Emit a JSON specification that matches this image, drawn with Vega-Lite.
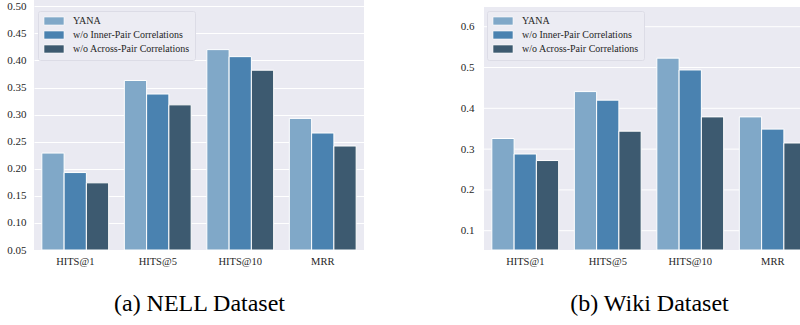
{
  "$schema": "https://vega.github.io/schema/vega-lite/v6.json",
  "padding": {"left": 6, "top": 0, "right": 0, "bottom": 0},
  "background": "white",
  "spacing": 96,
  "datasets": {
    "nell": [
      {"metric": "HITS@1", "model": "YANA", "value": 0.229},
      {"metric": "HITS@1", "model": "w/o Inner-Pair Correlations", "value": 0.193},
      {"metric": "HITS@1", "model": "w/o Across-Pair Correlations", "value": 0.174},
      {"metric": "HITS@5", "model": "YANA", "value": 0.363},
      {"metric": "HITS@5", "model": "w/o Inner-Pair Correlations", "value": 0.338},
      {"metric": "HITS@5", "model": "w/o Across-Pair Correlations", "value": 0.318},
      {"metric": "HITS@10", "model": "YANA", "value": 0.420},
      {"metric": "HITS@10", "model": "w/o Inner-Pair Correlations", "value": 0.407},
      {"metric": "HITS@10", "model": "w/o Across-Pair Correlations", "value": 0.382},
      {"metric": "MRR", "model": "YANA", "value": 0.293},
      {"metric": "MRR", "model": "w/o Inner-Pair Correlations", "value": 0.266},
      {"metric": "MRR", "model": "w/o Across-Pair Correlations", "value": 0.242}
    ],
    "wiki": [
      {"metric": "HITS@1", "model": "YANA", "value": 0.326},
      {"metric": "HITS@1", "model": "w/o Inner-Pair Correlations", "value": 0.288},
      {"metric": "HITS@1", "model": "w/o Across-Pair Correlations", "value": 0.272},
      {"metric": "HITS@5", "model": "YANA", "value": 0.441},
      {"metric": "HITS@5", "model": "w/o Inner-Pair Correlations", "value": 0.420},
      {"metric": "HITS@5", "model": "w/o Across-Pair Correlations", "value": 0.344},
      {"metric": "HITS@10", "model": "YANA", "value": 0.523},
      {"metric": "HITS@10", "model": "w/o Inner-Pair Correlations", "value": 0.494},
      {"metric": "HITS@10", "model": "w/o Across-Pair Correlations", "value": 0.379},
      {"metric": "MRR", "model": "YANA", "value": 0.379},
      {"metric": "MRR", "model": "w/o Inner-Pair Correlations", "value": 0.349},
      {"metric": "MRR", "model": "w/o Across-Pair Correlations", "value": 0.315}
    ],
    "wikiPanel": [{"bottom": 0.0527, "top": 0.6483}],
    "wikiTicks": [{"tick": 0.1}, {"tick": 0.2}, {"tick": 0.3}, {"tick": 0.4}, {"tick": 0.5}, {"tick": 0.6}]
  },
  "config": {
    "font": "Liberation Serif",
    "view": {"fill": "#EAEAF2", "stroke": null},
    "axis": {
      "domain": false,
      "ticks": false,
      "labelFont": "Liberation Serif",
      "labelColor": "#262626",
      "gridColor": "white",
      "gridWidth": 1,
      "gridOpacity": 1,
      "titleFont": "Liberation Serif",
      "titleFontWeight": "normal",
      "titleColor": "#000000"
    },
    "legend": {
      "labelFont": "Liberation Serif",
      "labelFontSize": 10,
      "labelColor": "#262626",
      "symbolType": "M-2.5,-1L2.5,-1L2.5,1L-2.5,1Z",
      "symbolSize": 64,
      "symbolOffset": 6,
      "symbolStrokeColor": "white",
      "symbolStrokeWidth": 0.6,
      "symbolOpacity": 1,
      "labelOffset": 14,
      "rowPadding": 2,
      "padding": 5,
      "fillColor": "#ECECF3",
      "strokeColor": "#DCDCE6",
      "cornerRadius": 2
    }
  },
  "hconcat": [
    {
      "data": {"name": "nell"},
      "width": 330,
      "height": 250,
      "mark": {"type": "bar", "stroke": "white", "strokeWidth": 1},
      "encoding": {
        "x": {
          "field": "metric",
          "type": "nominal",
          "sort": ["HITS@1", "HITS@5", "HITS@10", "MRR"],
          "scale": {"paddingInner": 0.19, "paddingOuter": 0.095},
          "axis": {"labelAngle": 0, "labelFont": "Liberation Serif", "labelFontSize": 10.5, "labelPadding": 6, "grid": false, "title": "(a) NELL Dataset", "titleFontSize": 24, "titlePadding": 25}
        },
        "xOffset": {
          "field": "model",
          "type": "nominal",
          "sort": ["YANA", "w/o Inner-Pair Correlations", "w/o Across-Pair Correlations"],
          "scale": {"paddingInner": 0, "paddingOuter": 0}
        },
        "y": {
          "field": "value",
          "type": "quantitative",
          "scale": {"domain": [0.05, 0.5116], "nice": false, "zero": false, "clamp": true},
          "axis": {"values": [0.05, 0.1, 0.15, 0.2, 0.25, 0.3, 0.35, 0.4, 0.45, 0.5], "format": ".2f", "labelFont": "Liberation Serif", "labelFontSize": 11, "labelPadding": 8, "title": null}
        },
        "y2": {"datum": 0.05},
        "color": {
          "field": "model",
          "type": "nominal",
          "sort": ["YANA", "w/o Inner-Pair Correlations", "w/o Across-Pair Correlations"],
          "scale": {"domain": ["YANA", "w/o Inner-Pair Correlations", "w/o Across-Pair Correlations"], "range": ["#80A8C8", "#4A82B0", "#3D5A70"]},
          "legend": {"title": null, "orient": "none", "legendX": 4, "legendY": 11, "labelFont": "Liberation Serif"}
        }
      }
    },
    {
      "width": 330,
      "height": 250,
      "view": {"fill": null, "stroke": null},
      "layer": [
        {
          "data": {"name": "wikiPanel"},
          "mark": {"type": "rect", "color": "#EAEAF2"},
          "encoding": {
            "y": {"field": "bottom", "type": "quantitative"},
            "y2": {"field": "top"}
          }
        },
        {
          "data": {"name": "wikiTicks"},
          "mark": {"type": "rule", "color": "white", "strokeWidth": 1},
          "encoding": {
            "y": {"field": "tick", "type": "quantitative"}
          }
        },
        {
          "data": {"name": "wiki"},
          "mark": {"type": "bar", "stroke": "white", "strokeWidth": 1},
          "encoding": {
            "x": {
              "field": "metric",
              "type": "nominal",
              "sort": ["HITS@1", "HITS@5", "HITS@10", "MRR"],
              "scale": {"paddingInner": 0.19, "paddingOuter": 0.095},
              "axis": {"labelAngle": 0, "labelFont": "Liberation Serif", "labelFontSize": 10.5, "labelPadding": 6, "grid": false, "title": "(b) Wiki Dataset", "titleFontSize": 24, "titlePadding": 25}
            },
            "xOffset": {
              "field": "model",
              "type": "nominal",
              "sort": ["YANA", "w/o Inner-Pair Correlations", "w/o Across-Pair Correlations"],
              "scale": {"paddingInner": 0, "paddingOuter": 0}
            },
            "y": {
              "field": "value",
              "type": "quantitative",
              "scale": {"domain": [0.0527, 0.6655], "nice": false, "zero": false, "clamp": true},
              "axis": {"values": [0.1, 0.2, 0.3, 0.4, 0.5, 0.6], "format": ".1f", "labelFont": "Liberation Serif", "labelFontSize": 11, "labelPadding": 10, "grid": false, "title": null}
            },
            "y2": {"datum": 0.0527},
            "color": {
              "field": "model",
              "type": "nominal",
              "sort": ["YANA", "w/o Inner-Pair Correlations", "w/o Across-Pair Correlations"],
              "scale": {"domain": ["YANA", "w/o Inner-Pair Correlations", "w/o Across-Pair Correlations"], "range": ["#80A8C8", "#4A82B0", "#3D5A70"]},
              "legend": {"title": null, "orient": "none", "legendX": 3, "legendY": 11, "labelFont": "Liberation Serif"}
            }
          }
        }
      ]
    }
  ],
  "resolve": {"scale": {"color": "shared"}, "legend": {"color": "independent"}}
}
